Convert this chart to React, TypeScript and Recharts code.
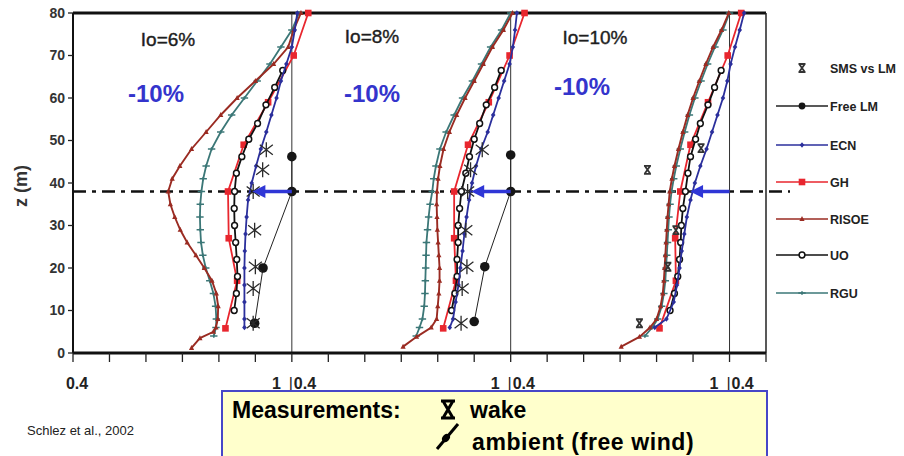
import React from 'react'
import { ScatterChart, Scatter, XAxis, YAxis, ReferenceLine } from 'recharts'

// heights (m) and normalised wind speeds (u/u0) (Io = 6%, 8%, 10%)
const Z_ECN = [80, 76, 72, 68, 64, 60, 56, 52, 48, 44, 40, 36, 32, 28, 24, 20, 16, 12, 8, 6]
const ECN_6 = [1.015, 1.008, 1.0, 0.985, 0.97, 0.958, 0.944, 0.93, 0.915, 0.902, 0.89, 0.88, 0.876, 0.873, 0.871, 0.87, 0.87, 0.87, 0.87, 0.87]
const ECN_8 = [1.017, 1.012, 1.006, 0.997, 0.982, 0.967, 0.952, 0.937, 0.919, 0.905, 0.894, 0.886, 0.879, 0.873, 0.868, 0.862, 0.857, 0.849, 0.842, 0.833]
const ECN_10 = [1.04, 1.028, 1.015, 1.003, 0.994, 0.982, 0.967, 0.952, 0.937, 0.92, 0.905, 0.893, 0.883, 0.876, 0.869, 0.863, 0.856, 0.847, 0.827, 0.795]

const Z_GH = [80, 70, 59, 49, 38, 27, 17, 5.8]
const GH_6 = [1.045, 1.005, 0.935, 0.868, 0.825, 0.827, 0.85, 0.818]
const GH_8 = [1.038, 0.997, 0.94, 0.883, 0.845, 0.845, 0.85, 0.815]
const GH_10 = [1.032, 0.995, 0.941, 0.893, 0.865, 0.851, 0.853, 0.808]

const Z_RISOE_6 = [80, 76, 72, 68, 64, 60, 56, 52, 48, 44, 41, 38, 35, 32, 29, 26, 23, 20, 17, 14, 11, 8, 6, 5, 3.5, 1.2]
const RISOE_6 = [1.025, 1.005, 0.99, 0.95, 0.9, 0.85, 0.805, 0.765, 0.725, 0.693, 0.672, 0.661, 0.667, 0.679, 0.694, 0.713, 0.737, 0.76, 0.781, 0.793, 0.798, 0.797, 0.792, 0.785, 0.748, 0.725]
const Z_RISOE_8 = [80, 76, 72, 68, 64, 60, 56, 52, 48, 44, 41, 38, 35, 32, 29, 26, 23, 20, 17, 14, 11, 8, 6, 3.8, 1.5]
const RISOE_8 = [1.005, 0.98, 0.95, 0.925, 0.9, 0.875, 0.852, 0.832, 0.816, 0.806, 0.801, 0.798, 0.797, 0.798, 0.799, 0.801, 0.803, 0.805, 0.805, 0.803, 0.8, 0.797, 0.782, 0.742, 0.705]
const Z_RISOE_10 = [80, 76, 72, 68, 64, 60, 56, 52, 48, 44, 41, 38, 35, 32, 29, 26, 23, 20, 17, 14, 11, 8, 6, 3.8, 1.5]
const RISOE_10 = [0.998, 0.978, 0.955, 0.935, 0.917, 0.9, 0.885, 0.872, 0.86, 0.849, 0.842, 0.836, 0.833, 0.83, 0.828, 0.826, 0.824, 0.822, 0.82, 0.817, 0.811, 0.8, 0.782, 0.753, 0.703]

const Z_RGU = [80, 76, 72, 68, 64, 60, 56, 52, 48, 44, 41, 38, 35, 32, 29, 26, 23, 20, 17, 14, 11, 8, 6, 4]
const RGU_6 = [1.02, 1.0, 0.97, 0.94, 0.905, 0.87, 0.835, 0.805, 0.78, 0.765, 0.757, 0.752, 0.749, 0.748, 0.749, 0.751, 0.756, 0.764, 0.775, 0.785, 0.791, 0.793, 0.792, 0.786]
const RGU_8 = [1.0, 0.975, 0.945, 0.92, 0.895, 0.868, 0.845, 0.823, 0.806, 0.795, 0.789, 0.785, 0.779, 0.775, 0.772, 0.769, 0.768, 0.767, 0.766, 0.765, 0.763, 0.758, 0.75, 0.741]
const RGU_10 = [1.0, 0.982, 0.96, 0.94, 0.922, 0.905, 0.89, 0.877, 0.865, 0.854, 0.847, 0.841, 0.837, 0.834, 0.832, 0.83, 0.828, 0.826, 0.824, 0.82, 0.814, 0.803, 0.788, 0.768]

const Z_UO = [66.5, 62.5, 58.4, 54, 50.3, 46.2, 42.3, 38, 34, 30, 26, 22, 18, 14, 10]
const UO_6 = [0.975, 0.953, 0.929, 0.906, 0.882, 0.863, 0.848, 0.843, 0.842, 0.843, 0.846, 0.849, 0.851, 0.848, 0.842]
const UO_8 = [0.974, 0.956, 0.933, 0.915, 0.9, 0.887, 0.877, 0.865, 0.86, 0.856, 0.856, 0.853, 0.853, 0.847, 0.838]
const UO_10 = [0.977, 0.959, 0.941, 0.92, 0.907, 0.893, 0.886, 0.879, 0.872, 0.868, 0.866, 0.863, 0.858, 0.849, 0.837]

// free-wind met mast (ambient) measurements
const Z_FREE_6 = [46.2, 38, 20, 7]
const FREE_6 = [1.0, 1.0, 0.921, 0.898]
const Z_FREE_8 = [46.6, 38, 20.3, 7.4]
const FREE_8 = [1.0, 1.0, 0.929, 0.9]

// wake measurements (SMS vs LM)
const Z_SMS = [47.8, 43.1, 38, 28.9, 20.3, 15.2, 7]
const SMS_6 = [0.93, 0.92, 0.894, 0.898, 0.9, 0.894, 0.894]
const SMS_8 = [0.922, 0.89, 0.882, 0.877, 0.88, 0.867, 0.864]
const Z_SMS_10 = [48.2, 43.1, 28.9, 20.3, 7]
const SMS_10 = [0.922, 0.775, 0.853, 0.831, 0.753]

const HUB_Z = 38
const ARROW_FROM = 1.0
const ARROW_TO = 0.9

const PANEL_SHIFT = [0, 0.6, 1.2]
const X_TICKS = [0, 0.1, 0.2, 0.3, 0.4, 0.5, 0.6, 0.7, 0.8, 0.9, 1, 1.1, 1.2, 1.3, 1.4, 1.5, 1.6, 1.7, 1.8, 1.9]
const X_LABELS: Record<string, string> = { '0': '0.4', '0.6': '1 |0.4', '1.2': '1 |0.4', '1.8': '1 |0.4' }
const Y_TICKS = [0, 10, 20, 30, 40, 50, 60, 70, 80]
const IO_LABELS = ['Io=6%', 'Io=8%', 'Io=10%']
const DEFICIT_LABELS = ['-10%', '-10%', '-10%']

const C_ECN = '#2b2f9c'
const C_GH = '#e8262e'
const C_RISOE = '#9a2b22'
const C_RGU = '#3b7777'
const C_UO = '#111111'
const C_ARROW = '#2f36d6'
const FONT = "'Liberation Sans', Arial, sans-serif"

// u in [0.4, 1] of panel p -> shared x axis
const pts = (z: number[], u: number[], p: number) =>
  z.map((zz, i) => ({ x: u[i] - 0.4 + PANEL_SHIFT[p], y: zz }))

const triangle = (c: string) => (p: any) => (
  <path d={`M${p.cx},${p.cy - 2.9}L${p.cx + 2.6},${p.cy + 2}L${p.cx - 2.6},${p.cy + 2}Z`} fill={c} />
)
const square = (c: string) => (p: any) => <rect x={p.cx - 3.3} y={p.cy - 3.3} width={6.6} height={6.6} fill={c} />
const diamond = (c: string) => (p: any) => (
  <path d={`M${p.cx},${p.cy - 2.8}L${p.cx + 2.3},${p.cy}L${p.cx},${p.cy + 2.8}L${p.cx - 2.3},${p.cy}Z`} fill={c} />
)
const bar = (c: string) => (p: any) => (
  <path d={`M${p.cx - 3.7},${p.cy}H${p.cx + 3.7}M${p.cx},${p.cy - 1.7}V${p.cy + 1.7}`} stroke={c} strokeWidth={1.6} />
)
const openCircle = (p: any) => <circle cx={p.cx} cy={p.cy} r={2.9} fill="#fff" stroke={C_UO} strokeWidth={1.5} />
const bigDot = (p: any) => <circle cx={p.cx} cy={p.cy} r={4.8} fill="#161616" />
const asterisk = (p: any) => (
  <path
    d={`M${p.cx},${p.cy - 7.5}V${p.cy + 7.5}M${p.cx - 6.5},${p.cy - 5}L${p.cx + 6.5},${p.cy + 5}M${p.cx - 6.5},${p.cy + 5}L${p.cx + 6.5},${p.cy - 5}`}
    stroke="#2a2a2a"
    strokeWidth={1.3}
  />
)
const smallX = (p: any) => (
  <path
    d={`M${p.cx - 2.8},${p.cy - 4}L${p.cx + 2.8},${p.cy + 4}M${p.cx + 2.8},${p.cy - 4}L${p.cx - 2.8},${p.cy + 4}M${p.cx - 3.5},${p.cy - 4}H${p.cx + 3.5}M${p.cx - 3.5},${p.cy + 4}H${p.cx + 3.5}`}
    stroke="#333"
    strokeWidth={1.8}
  />
)
const noMark = () => <g />
const arrowHead = (p: any) => (
  <path d={`M${p.cx - 3},${p.cy}L${p.cx + 10},${p.cy - 6.5}L${p.cx + 10},${p.cy + 6.5}Z`} fill={C_ARROW} />
)

const XTick = (props: any) => {
  const { x, y, payload } = props
  const label = X_LABELS[String(Math.round(payload.value * 10) / 10)]
  if (!label) return null
  const base = y + 25
  const style = { fontFamily: FONT, fontSize: 16, fontWeight: 700, fill: '#222' }
  if (label === '0.4') {
    return <text x={x + 4} y={base} textAnchor="middle" style={style}>0.4</text>
  }
  return (
    <g>
      <text x={x - 11} y={base} textAnchor="end" style={style}>1</text>
      <text x={x - 1} y={base} textAnchor="middle" style={{ ...style, fontWeight: 400 }}>|</text>
      <text x={x + 2} y={base} textAnchor="start" style={style}>0.4</text>
    </g>
  )
}

const LEGEND = [
  { name: 'SMS vs LM', color: null, mark: smallX },
  { name: 'Free LM', color: '#222', mark: (p: any) => <circle cx={p.cx} cy={p.cy} r={3.4} fill="#161616" /> },
  { name: 'ECN', color: C_ECN, mark: diamond(C_ECN) },
  { name: 'GH', color: C_GH, mark: square(C_GH) },
  { name: 'RISOE', color: C_RISOE, mark: triangle(C_RISOE) },
  { name: 'UO', color: C_UO, mark: openCircle },
  { name: 'RGU', color: C_RGU, mark: bar(C_RGU) },
]
const LEGEND_Y = [68, 106, 145, 182, 219, 255, 293]

export default function App() {
  const risoe = [pts(Z_RISOE_6, RISOE_6, 0), pts(Z_RISOE_8, RISOE_8, 1), pts(Z_RISOE_10, RISOE_10, 2)]
  const rgu = [pts(Z_RGU, RGU_6, 0), pts(Z_RGU, RGU_8, 1), pts(Z_RGU, RGU_10, 2)]
  const gh = [pts(Z_GH, GH_6, 0), pts(Z_GH, GH_8, 1), pts(Z_GH, GH_10, 2)]
  const uo = [pts(Z_UO, UO_6, 0), pts(Z_UO, UO_8, 1), pts(Z_UO, UO_10, 2)]
  const ecn = [pts(Z_ECN, ECN_6, 0), pts(Z_ECN, ECN_8, 1), pts(Z_ECN, ECN_10, 2)]
  const free = [pts(Z_FREE_6, FREE_6, 0), pts(Z_FREE_8, FREE_8, 1)]
  const sms = [pts(Z_SMS, SMS_6, 0), pts(Z_SMS, SMS_8, 1)]
  const sms10 = pts(Z_SMS_10, SMS_10, 2)

  const line = (c: string, w = 1.8) => ({ stroke: c, strokeWidth: w })

  return (
    <div style={{ position: 'absolute', left: 0, top: 0, width: 904, height: 456, background: '#fff', overflow: 'hidden' }}>
      <ScatterChart width={904} height={456} margin={{ top: 13, right: 138, bottom: 73, left: 33 }}>
        <XAxis
          type="number"
          dataKey="x"
          domain={[0, 1.9]}
          ticks={X_TICKS}
          interval={0}
          height={30}
          tickSize={9}
          tickMargin={2}
          axisLine={{ stroke: '#111', strokeWidth: 3 }}
          tickLine={{ stroke: '#222', strokeWidth: 1.3 }}
          tick={<XTick />}
        />
        <YAxis
          type="number"
          dataKey="y"
          domain={[0, 80]}
          ticks={Y_TICKS}
          interval={0}
          width={40}
          tickSize={5}
          tickMargin={3}
          axisLine={{ stroke: '#111', strokeWidth: 2 }}
          tickLine={{ stroke: '#222', strokeWidth: 1.3 }}
          tick={{ fill: '#333', fontSize: 14, fontWeight: 700, fontFamily: FONT }}
        />
        <ReferenceLine y={80} stroke="#111" strokeWidth={3} />
        <ReferenceLine x={1.9} stroke="#222" strokeWidth={1.5} />
        {[0.6, 1.2, 1.8].map(v => (
          <ReferenceLine key={v} x={v} stroke="#333" strokeWidth={1} />
        ))}
        <ReferenceLine
          y={HUB_Z}
          stroke="#111"
          strokeWidth={2.6}
          strokeDasharray="13 6 4 6"
          shape={(p: any) => (
            <line x1={p.x1} y1={p.y1} x2={p.x2 + 24} y2={p.y2} stroke="#111" strokeWidth={2.6} strokeDasharray="13 6 4 6" />
          )}
        />

        {rgu.map((d, i) => (
          <Scatter key={'rgu' + i} data={d} line={line(C_RGU)} shape={bar(C_RGU)} isAnimationActive={false} />
        ))}
        {risoe.map((d, i) => (
          <Scatter key={'ris' + i} data={d} line={line(C_RISOE, 1.9)} shape={triangle(C_RISOE)} isAnimationActive={false} />
        ))}
        {gh.map((d, i) => (
          <Scatter key={'gh' + i} data={d} line={line(C_GH)} shape={square(C_GH)} isAnimationActive={false} />
        ))}
        {uo.map((d, i) => (
          <Scatter key={'uo' + i} data={d} line={line(C_UO)} shape={openCircle} isAnimationActive={false} />
        ))}
        {ecn.map((d, i) => (
          <Scatter key={'ecn' + i} data={d} line={line(C_ECN)} shape={diamond(C_ECN)} isAnimationActive={false} />
        ))}
        {free.map((d, i) => (
          <Scatter key={'free' + i} data={d} line={line('#222', 1)} shape={bigDot} isAnimationActive={false} />
        ))}
        {sms.map((d, i) => (
          <Scatter key={'sms' + i} data={d} shape={asterisk} isAnimationActive={false} />
        ))}
        <Scatter data={sms10} shape={smallX} isAnimationActive={false} />

        {PANEL_SHIFT.map((s, i) => (
          <Scatter
            key={'arr' + i}
            data={[{ x: ARROW_FROM - 0.4 + s, y: HUB_Z }, { x: ARROW_TO - 0.4 + s + 0.02, y: HUB_Z }]}
            line={line(C_ARROW, 3.5)}
            shape={noMark}
            isAnimationActive={false}
          />
        ))}
        {PANEL_SHIFT.map((s, i) => (
          <Scatter key={'head' + i} data={[{ x: ARROW_TO - 0.4 + s, y: HUB_Z }]} shape={arrowHead} isAnimationActive={false} />
        ))}
      </ScatterChart>

      <svg width={904} height={456} style={{ position: 'absolute', left: 0, top: 0, pointerEvents: 'none' }}>
        <text
          transform="translate(27,186) rotate(-90)"
          textAnchor="middle"
          style={{ fontFamily: FONT, fontSize: 18, fontWeight: 700, fill: '#333' }}
        >
          z (m)
        </text>

        {IO_LABELS.map((t, i) => (
          <text key={t} x={[168, 372, 595][i]} y={[46, 43, 44][i]} textAnchor="middle"
            style={{ fontFamily: FONT, fontSize: 19, fill: '#1e1e1e', stroke: '#1e1e1e', strokeWidth: 0.4 }}>
            {t}
          </text>
        ))}
        {DEFICIT_LABELS.map((t, i) => (
          <text key={i} x={[156, 372, 582][i]} y={[102, 102, 95][i]} textAnchor="middle"
            style={{ fontFamily: FONT, fontSize: 24, fontWeight: 700, fill: '#3434cc' }}>
            {t}
          </text>
        ))}

        {LEGEND.map((e, i) => {
          const y = LEGEND_Y[i]
          return (
            <g key={e.name}>
              {e.color && <line x1={776} x2={828} y1={y} y2={y} stroke={e.color} strokeWidth={1.6} />}
              {e.mark({ cx: 802, cy: y })}
              <text x={830} y={y + 4.5} style={{ fontFamily: FONT, fontSize: 12.5, fontWeight: 700, fill: '#222' }}>
                {e.name}
              </text>
            </g>
          )
        })}

        <text x={27} y={435} style={{ fontFamily: FONT, fontSize: 13, fill: '#222' }}>
          Schlez et al., 2002
        </text>

        <rect x={222} y={391} width={545} height={80} fill="#ffffcc" stroke="#4646c8" strokeWidth={2} />
        <text x={232} y={418} style={{ fontFamily: FONT, fontSize: 23, fontWeight: 700, fill: '#000' }}>
          Measurements:
        </text>
        <path d="M441,401H455M441,418H455M443,401L453,418M453,401L443,418" stroke="#000" strokeWidth={3} />
        <text x={470} y={418} style={{ fontFamily: FONT, fontSize: 23, fontWeight: 700, fill: '#000' }}>
          wake
        </text>
        <path d="M437,449L458,424" stroke="#000" strokeWidth={3} />
        <ellipse cx={446} cy={438} rx={4.5} ry={3.5} transform="rotate(-50 446 438)" fill="#000" />
        <text x={472} y={450} style={{ fontFamily: FONT, fontSize: 23, fontWeight: 700, fill: '#000', letterSpacing: 0.6 }}>
          ambient (free wind)
        </text>
      </svg>
    </div>
  )
}
